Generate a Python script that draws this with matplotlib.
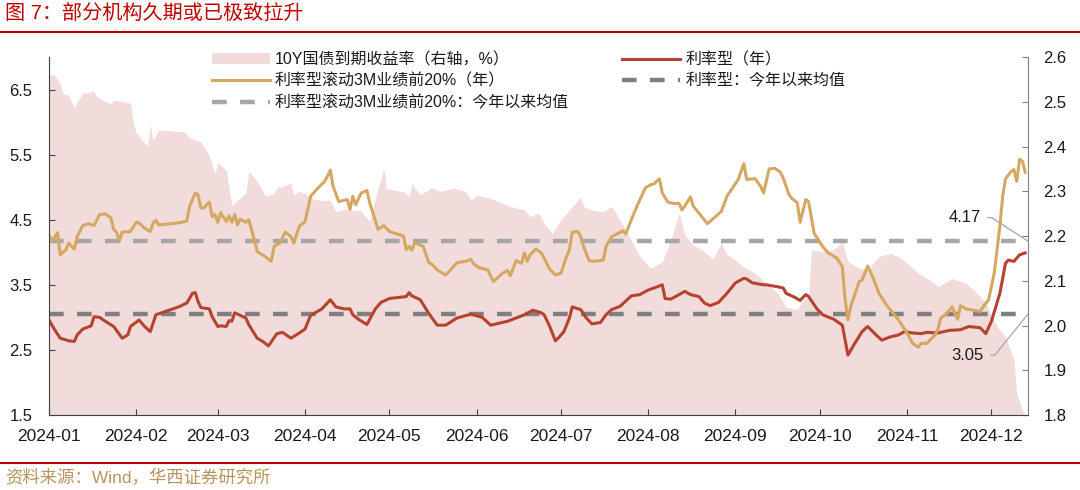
"""Duration of rate-type bond funds vs 10Y CGB yield, 2024 (recreated chart)."""

import matplotlib

matplotlib.use("Agg")  # no display needed; write files only
import matplotlib.dates as mdates
import matplotlib.pyplot as plt
import pandas as pd
from matplotlib.lines import Line2D
from matplotlib.patches import Patch

plt.rcParams["font.family"] = ["Liberation Sans", "Noto Sans CJK SC", "DejaVu Sans"]

YEAR = "2024"

# 10Y CGB yield (right axis, %)
yield_days = [
    "01-01", "01-03", "01-05", "01-06", "01-08", "01-10", "01-11", "01-13", "01-17", "01-18",
    "01-23", "01-24", "01-30", "01-31", "02-01", "02-05", "02-06", "02-07", "02-09", "02-18",
    "02-20", "02-24", "02-27", "02-29", "03-01", "03-04", "03-06", "03-11", "03-12", "03-14",
    "03-18", "03-21", "03-22", "03-27", "03-28", "03-30", "04-01", "04-03", "04-06", "04-10",
    "04-12", "04-15", "04-21", "04-24", "04-26", "04-29", "04-30", "05-06", "05-08", "05-09",
    "05-12", "05-16", "05-19", "05-24", "05-28", "05-30", "06-01", "06-06", "06-13", "06-18",
    "06-20", "06-23", "06-25", "06-28", "06-30", "07-02", "07-06", "07-08", "07-09", "07-12",
    "07-16", "07-19", "07-22", "07-26", "07-29", "08-02", "08-06", "08-09", "08-12", "08-14",
    "08-17", "08-20", "08-24", "08-27", "08-29", "09-01", "09-04", "09-08", "09-12", "09-16",
    "09-19", "09-23", "09-25", "09-27", "09-28", "10-02", "10-06", "10-09", "10-11", "10-15",
    "10-18", "10-22", "10-26", "10-29", "11-02", "11-05", "11-10", "11-12", "11-17", "11-22",
    "11-26", "11-29", "12-03", "12-06", "12-09", "12-10", "12-12", "12-13",
]
yield_vals = [
    2.560, 2.560, 2.540, 2.517, 2.515, 2.487, 2.500, 2.519, 2.523, 2.510,
    2.495, 2.504, 2.497, 2.450, 2.431, 2.400, 2.448, 2.415, 2.437, 2.433,
    2.420, 2.410, 2.380, 2.338, 2.364, 2.347, 2.268, 2.297, 2.344, 2.331,
    2.290, 2.295, 2.307, 2.318, 2.292, 2.300, 2.295, 2.284, 2.280, 2.280,
    2.254, 2.260, 2.256, 2.232, 2.284, 2.351, 2.306, 2.299, 2.288, 2.316,
    2.292, 2.308, 2.300, 2.307, 2.300, 2.280, 2.291, 2.284, 2.266, 2.258,
    2.243, 2.252, 2.228, 2.206, 2.228, 2.243, 2.273, 2.288, 2.266, 2.258,
    2.254, 2.266, 2.236, 2.191, 2.154, 2.128, 2.143, 2.191, 2.251, 2.202,
    2.180, 2.169, 2.150, 2.185, 2.158, 2.146, 2.131, 2.117, 2.094, 2.072,
    2.041, 2.036, 2.057, 2.064, 2.169, 2.165, 2.170, 2.187, 2.143, 2.128,
    2.124, 2.154, 2.161, 2.154, 2.135, 2.117, 2.098, 2.087, 2.105, 2.094,
    2.072, 2.050, 1.997, 1.975, 1.923, 1.848, 1.811, 1.800,
]

# 利率型 fund duration (years)
rate_days = [
    "01-01", "01-03", "01-05", "01-08", "01-10", "01-11", "01-13", "01-16", "01-17", "01-19",
    "01-21", "01-24", "01-27", "01-29", "01-30", "02-02", "02-04", "02-06", "02-08", "02-10",
    "02-16", "02-19", "02-21", "02-22", "02-23", "02-24", "02-27", "02-28", "03-01", "03-02",
    "03-04", "03-05", "03-06", "03-07", "03-09", "03-11", "03-12", "03-15", "03-17", "03-19",
    "03-22", "03-24", "03-27", "03-30", "04-01", "04-03", "04-07", "04-10", "04-12", "04-15",
    "04-17", "04-18", "04-20", "04-23", "04-26", "04-28", "05-01", "05-05", "05-07", "05-08",
    "05-09", "05-12", "05-15", "05-18", "05-21", "05-25", "05-30", "06-03", "06-06", "06-12",
    "06-18", "06-21", "06-24", "06-25", "06-27", "06-29", "06-30", "07-02", "07-04", "07-05",
    "07-08", "07-10", "07-12", "07-15", "07-17", "07-19", "07-22", "07-26", "07-29", "08-01",
    "08-03", "08-06", "08-07", "08-09", "08-12", "08-14", "08-16", "08-19", "08-21", "08-23",
    "08-26", "08-29", "09-01", "09-04", "09-05", "09-07", "09-11", "09-12", "09-16", "09-18",
    "09-19", "09-22", "09-24", "09-26", "09-27", "09-30", "10-02", "10-06", "10-09", "10-10",
    "10-11", "10-13", "10-16", "10-18", "10-21", "10-23", "10-26", "10-29", "10-31", "11-03",
    "11-06", "11-08", "11-12", "11-16", "11-20", "11-23", "11-27", "11-29", "12-01", "12-04",
    "12-06", "12-07", "12-09", "12-11", "12-13",
]
rate_vals = [
    2.96, 2.81, 2.68, 2.64, 2.63, 2.73, 2.82, 2.87, 3.01, 3.00,
    2.94, 2.86, 2.68, 2.73, 2.86, 2.96, 2.86, 2.78, 3.04, 3.07,
    3.16, 3.22, 3.37, 3.38, 3.24, 3.15, 3.13, 3.01, 2.86, 2.87,
    2.86, 2.95, 2.94, 3.07, 3.03, 2.99, 2.89, 2.68, 2.63, 2.56,
    2.75, 2.77, 2.68, 2.76, 2.82, 3.03, 3.13, 3.27, 3.16, 3.13,
    3.13, 3.04, 2.97, 2.89, 3.13, 3.23, 3.29, 3.31, 3.32, 3.38,
    3.33, 3.27, 3.06, 2.88, 2.88, 2.99, 3.05, 3.00, 2.88, 2.94,
    3.04, 3.11, 3.07, 3.04, 2.86, 2.64, 2.68, 2.78, 2.99, 3.16,
    3.12, 2.99, 2.90, 2.92, 3.04, 3.12, 3.17, 3.33, 3.35, 3.42,
    3.45, 3.50, 3.29, 3.28, 3.35, 3.40, 3.35, 3.32, 3.22, 3.18,
    3.23, 3.37, 3.53, 3.60, 3.59, 3.53, 3.50, 3.50, 3.47, 3.45,
    3.37, 3.31, 3.26, 3.35, 3.32, 3.13, 3.04, 2.97, 2.88, 2.65,
    2.42, 2.57, 2.78, 2.86, 2.73, 2.65, 2.70, 2.73, 2.78, 2.76,
    2.75, 2.77, 2.76, 2.80, 2.81, 2.86, 2.84, 2.75, 2.94, 3.37,
    3.83, 3.88, 3.86, 3.96, 3.99,
]

# 利率型滚动3M业绩前20% fund duration (years)
top20_days = [
    "01-01", "01-02", "01-04", "01-05", "01-07", "01-08", "01-10", "01-11", "01-13", "01-15",
    "01-17", "01-19", "01-21", "01-23", "01-24", "01-25", "01-26", "01-27", "01-30", "02-01",
    "02-02", "02-04", "02-06", "02-07", "02-08", "02-09", "02-16", "02-19", "02-20", "02-22",
    "02-23", "02-24", "02-25", "02-27", "02-28", "02-29", "03-01", "03-02", "03-04", "03-05",
    "03-06", "03-07", "03-08", "03-09", "03-11", "03-12", "03-14", "03-15", "03-18", "03-20",
    "03-21", "03-23", "03-25", "03-27", "03-28", "03-30", "04-01", "04-03", "04-05", "04-08",
    "04-09", "04-10", "04-11", "04-13", "04-16", "04-17", "04-18", "04-19", "04-21", "04-23",
    "04-24", "04-27", "04-29", "05-01", "05-06", "05-07", "05-08", "05-09", "05-10", "05-13",
    "05-15", "05-16", "05-18", "05-21", "05-23", "05-25", "05-28", "05-30", "05-31", "06-02",
    "06-05", "06-06", "06-07", "06-10", "06-12", "06-13", "06-15", "06-17", "06-18", "06-19",
    "06-20", "06-22", "06-24", "06-25", "06-27", "06-29", "07-01", "07-03", "07-04", "07-05",
    "07-07", "07-08", "07-09", "07-11", "07-13", "07-16", "07-17", "07-19", "07-23", "07-24",
    "07-26", "07-28", "07-31", "08-02", "08-03", "08-05", "08-06", "08-08", "08-10", "08-12",
    "08-13", "08-14", "08-16", "08-17", "08-20", "08-22", "08-25", "08-27", "08-29", "08-31",
    "09-02", "09-04", "09-05", "09-08", "09-10", "09-11", "09-13", "09-15", "09-17", "09-18",
    "09-20", "09-21", "09-23", "09-24", "09-26", "09-27", "09-29", "10-02", "10-04", "10-07",
    "10-09", "10-10", "10-11", "10-12", "10-15", "10-16", "10-18", "10-20", "10-22", "10-25",
    "10-26", "10-29", "11-01", "11-03", "11-05", "11-06", "11-08", "11-11", "11-12", "11-13",
    "11-15", "11-17", "11-19", "11-20", "11-22", "11-27", "11-28", "11-30", "12-02", "12-04",
    "12-05", "12-06", "12-08", "12-09", "12-10", "12-11", "12-12", "12-13",
]
top20_vals = [
    4.27, 4.17, 4.30, 3.96, 4.04, 4.14, 4.05, 4.24, 4.41, 4.44,
    4.41, 4.58, 4.59, 4.53, 4.35, 4.31, 4.17, 4.31, 4.32, 4.46,
    4.45, 4.37, 4.32, 4.45, 4.49, 4.42, 4.45, 4.48, 4.71, 4.91,
    4.88, 4.68, 4.68, 4.77, 4.55, 4.58, 4.46, 4.61, 4.47, 4.56,
    4.46, 4.58, 4.42, 4.51, 4.46, 4.50, 4.19, 4.01, 3.93, 3.86,
    4.09, 4.14, 4.31, 4.24, 4.14, 4.40, 4.47, 4.86, 4.96, 5.09,
    5.17, 5.26, 5.01, 4.78, 4.81, 4.66, 4.86, 4.73, 4.91, 4.95,
    4.76, 4.35, 4.41, 4.32, 4.25, 4.04, 4.09, 4.03, 4.15, 4.09,
    3.84, 3.82, 3.73, 3.65, 3.74, 3.84, 3.86, 3.89, 3.82, 3.76,
    3.73, 3.63, 3.55, 3.67, 3.72, 3.64, 3.87, 3.83, 3.99, 3.86,
    3.96, 4.05, 3.99, 3.91, 3.74, 3.65, 3.68, 3.94, 4.04, 4.31,
    4.32, 4.24, 4.09, 3.87, 3.86, 3.88, 4.09, 4.24, 4.33, 4.28,
    4.50, 4.71, 4.99, 5.04, 5.05, 5.13, 4.91, 4.77, 4.75, 4.75,
    4.65, 4.71, 4.85, 4.71, 4.55, 4.44, 4.55, 4.63, 4.86, 4.99,
    5.12, 5.36, 5.12, 5.13, 5.01, 4.91, 5.28, 5.29, 5.23, 5.14,
    4.89, 4.83, 4.76, 4.46, 4.81, 4.78, 4.29, 4.09, 3.99, 3.91,
    3.78, 3.27, 2.96, 3.17, 3.55, 3.57, 3.79, 3.60, 3.37, 3.17,
    3.12, 2.96, 2.76, 2.60, 2.54, 2.60, 2.60, 2.73, 2.82, 2.99,
    3.05, 3.16, 2.97, 3.18, 3.13, 3.09, 3.16, 3.27, 3.68, 4.40,
    4.86, 5.13, 5.24, 5.27, 5.09, 5.43, 5.40, 5.23,
]

rate_mean = 3.05
top20_mean = 4.17

labels = [
    "10Y国债到期收益率（右轴，%）",
    "利率型滚动3M业绩前20%（年）",
    "利率型滚动3M业绩前20%：今年以来均值",
    "利率型（年）",
    "利率型：今年以来均值",
]

RED = "#B5432F"
GOLD = "#D5A862"
PINK = "#F2DCDB"
LGRAY = "#A6A6A6"
DGRAY = "#808080"
TEXT = "#1A1A1A"


def to_dates(days):
    return pd.to_datetime([f"{YEAR}-{d}" for d in days])


def main():
    fig = plt.figure(figsize=(10.8, 4.9), dpi=100)
    ax = fig.add_axes([49 / 1080, 75 / 490, 979 / 1080, 358 / 490])
    ax_r = ax.twinx()
    ax.set_zorder(ax_r.get_zorder() + 1)
    ax.patch.set_visible(False)

    ax_r.fill_between(to_dates(yield_days), 1.8, yield_vals, color=PINK, lw=0)

    ax.axhline(top20_mean, color=LGRAY, lw=3.2, dashes=(3.3, 3.0))
    ax.axhline(rate_mean, color=DGRAY, lw=3.2, dashes=(3.3, 3.0))
    ax.plot(to_dates(rate_days), rate_vals, color=RED, lw=2.2)
    ax.plot(to_dates(top20_days), top20_vals, color=GOLD, lw=2.2)

    ax.set_xlim(pd.Timestamp(f"{YEAR}-01-01"), pd.Timestamp(f"{YEAR}-12-14"))
    ax.set_ylim(1.5, 7.0)
    ax.set_yticks([1.5, 2.5, 3.5, 4.5, 5.5, 6.5])
    ax_r.set_ylim(1.8, 2.6)
    ax_r.set_yticks([1.8, 1.9, 2.0, 2.1, 2.2, 2.3, 2.4, 2.5, 2.6])
    ax_r.yaxis.set_major_formatter(plt.FormatStrFormatter("%.1f"))

    ax.xaxis.set_major_locator(mdates.MonthLocator())
    ax.xaxis.set_major_formatter(mdates.DateFormatter("%Y-%m"))

    for a in (ax, ax_r):
        a.spines["top"].set_visible(False)
    ax.spines["right"].set_visible(False)
    ax_r.spines["left"].set_visible(False)
    ax_r.spines["bottom"].set_visible(False)
    ax.spines["left"].set_color("#404040")
    ax.spines["bottom"].set_color("#404040")
    ax_r.spines["right"].set_color("#808080")

    ax.tick_params(axis="y", direction="in", length=4, pad=12, labelsize=12,
                   color="#404040", labelcolor=TEXT)
    ax.tick_params(axis="x", direction="in", length=4, pad=10, labelsize=12.5,
                   color="#404040", labelcolor=TEXT)
    ax_r.tick_params(axis="y", direction="in", length=4, pad=11, labelsize=12,
                     color="#808080", labelcolor=TEXT)

    # leader labels for the two year-to-date averages
    ax.annotate(f"{top20_mean:.2f}", xy=(1.0, top20_mean),
                xycoords=("axes fraction", "data"), xytext=(-34, 17),
                textcoords="offset points", ha="right", va="center",
                fontsize=12, color=TEXT,
                arrowprops=dict(arrowstyle="-", color=LGRAY, lw=0.9,
                                relpos=(1, 0.5), shrinkA=3, shrinkB=0,
                                connectionstyle="angle,angleA=0,angleB=147,rad=0"))
    ax.annotate(f"{rate_mean:.2f}", xy=(1.0, rate_mean),
                xycoords=("axes fraction", "data"), xytext=(-32, -29.5),
                textcoords="offset points", ha="right", va="center",
                fontsize=12, color=TEXT,
                arrowprops=dict(arrowstyle="-", color=LGRAY, lw=0.9,
                                relpos=(1, 0.5), shrinkA=3, shrinkB=0,
                                connectionstyle="angle,angleA=0,angleB=231,rad=0"))

    handles = [
        Patch(facecolor=PINK, edgecolor="none"),
        Line2D([], [], color=GOLD, lw=2.2),
        Line2D([], [], color=LGRAY, lw=3.2, dashes=(3.3, 3.0)),
        Line2D([], [], color=RED, lw=2.2),
        Line2D([], [], color=DGRAY, lw=3.2, dashes=(3.3, 3.0)),
    ]
    fig.legend(handles, labels, loc="upper left", bbox_to_anchor=(212 / 1080, 1 - 52 / 490),
               ncol=2, frameon=False, fontsize=11.5, handlelength=3.6, handletextpad=0.35,
               columnspacing=3.3, labelspacing=0.4, borderaxespad=0, borderpad=0,
               labelcolor=TEXT)

    # title and source bands
    fig.text(5 / 1080, 1 - 13 / 490, "图 7：部分机构久期或已极致拉升", fontsize=14.5,
             color="#C00000", ha="left", va="center")
    fig.add_artist(Line2D([0, 1], [1 - 32 / 490, 1 - 32 / 490], transform=fig.transFigure,
                          color="#C00000", lw=1.5))
    fig.add_artist(Line2D([0, 1], [1 - 463 / 490, 1 - 463 / 490], transform=fig.transFigure,
                          color="#C00000", lw=1.5))
    fig.text(5 / 1080, 1 - 478 / 490, "资料来源：Wind，华西证券研究所", fontsize=12.5,
             color="#B8945E", ha="left", va="center")

    fig.savefig("out.png", dpi=100)
    plt.close(fig)


if __name__ == "__main__":
    main()
